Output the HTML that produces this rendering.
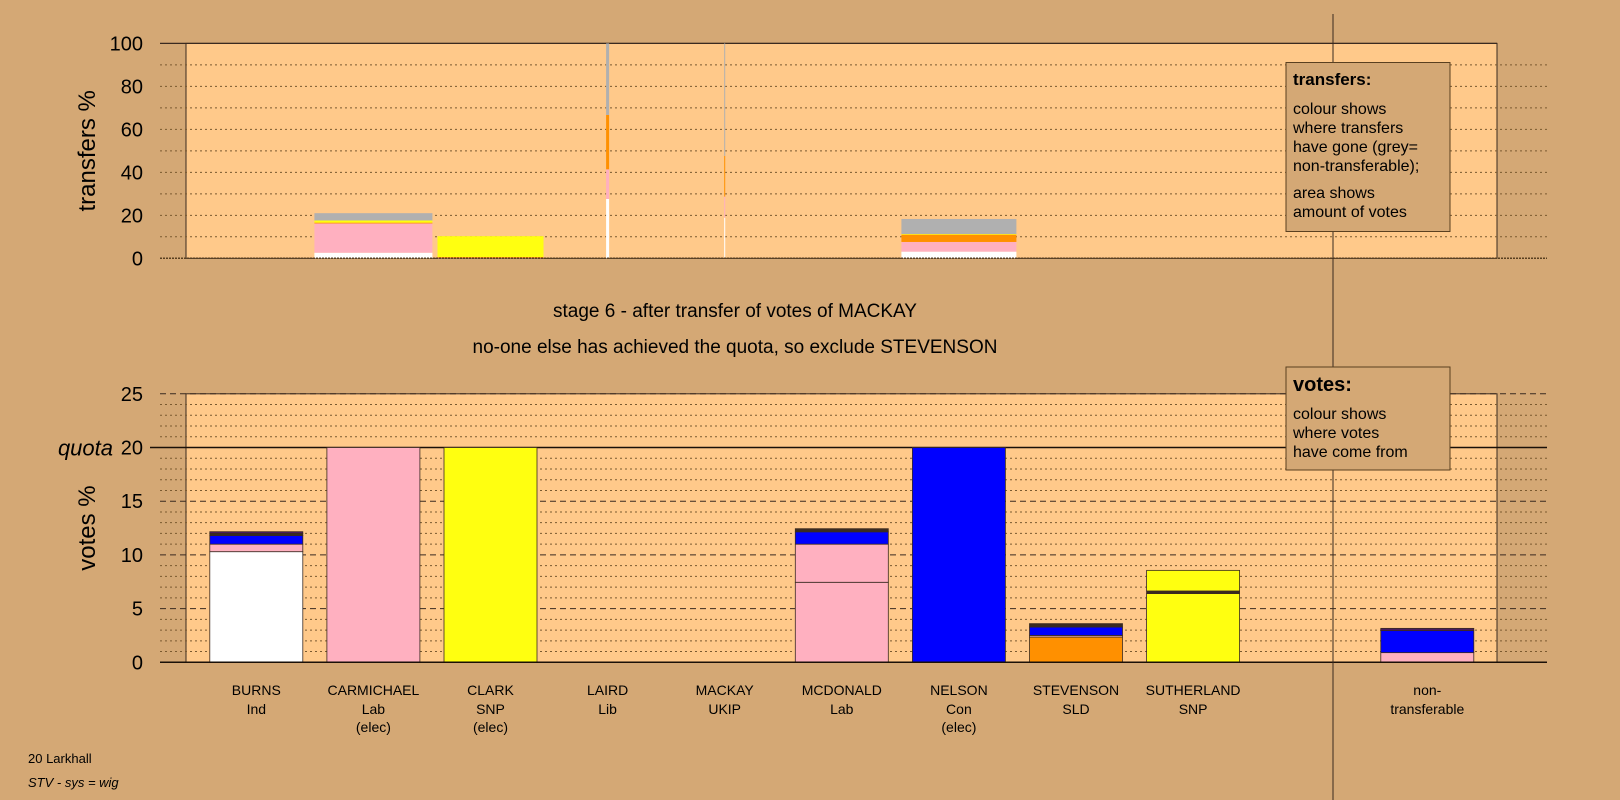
<!DOCTYPE html>
<html><head><meta charset="utf-8">
<style>
html,body{margin:0;padding:0;background:#d4a875;}
svg{display:block;font-family:"Liberation Sans",Arial,sans-serif;}
</style></head>
<body>
<svg id="chart" width="1620" height="800" viewBox="0 0 1620 800" xmlns="http://www.w3.org/2000/svg">
<rect x="0" y="0" width="1620" height="800" fill="#d4a875"/>
<g id="topg"></g>
<g id="botg"></g>
<g id="ovg"></g>
</svg>
<script>
// ---- data ----
var candidates = ["BURNS","CARMICHAEL","CLARK","LAIRD","MACKAY","MCDONALD","NELSON","STEVENSON","SUTHERLAND","gap","nontransferable"];
var labelLine1 = ["BURNS","CARMICHAEL","CLARK","LAIRD","MACKAY","MCDONALD","NELSON","STEVENSON","SUTHERLAND","","non-"];
var labelLine2 = ["Ind","Lab","SNP","Lib","UKIP","Lab","Con","SLD","SNP","","transferable"];
var labelLine3 = ["","(elec)","(elec)","","","","(elec)","","","",""];
var colours = {white:"#ffffff",pink:"#ffb0c0",yellow:"#ffff10",blue:"#0000ff",orange:"#ff9000",grey:"#b0b0b0",purple:"#4a1a60",dark:"#3a2a20"};
var transferIdx = [1,2,3,4,6];
var transferWidth = [118,106,3,1,115];
var transferColours = [
 ["white","pink","orange","yellow","grey"],
 ["pink","orange","yellow"],
 ["white","pink","orange","grey"],
 ["white","pink","orange","grey"],
 ["white","pink","orange","yellow","grey"]];
var transferTops = [
 [2.6,16.2,16.6,17.6,21.0],
 [0.3,0.6,10.3],
 [27.6,41.4,66.7,100],
 [18.9,28.7,47.6,100],
 [3.1,7.6,11.0,11.3,18.3]];
var voteColours = [
 ["white","pink","blue","dark","purple"],
 ["pink"],["yellow"],[],[],
 ["pink","pink","blue","dark"],
 ["blue"],
 ["orange","pink","blue","dark"],
 ["yellow","dark","yellow"],
 [],
 ["pink","blue","purple"]];
var voteTops = [
 [10.3,11.0,11.8,12.0,12.16],
 [20],[20],[],[],
 [7.45,11.0,12.15,12.44],
 [20],
 [2.35,2.5,3.28,3.6],
 [6.4,6.64,8.56],
 [],
 [0.9,2.95,3.16]];
var topTicks = [0,20,40,60,80,100];
var botTicks = [0,5,10,15,20,25];
var quota = 20;

(function(){
var NS="http://www.w3.org/2000/svg";
var plotL=186, plotR=1497, lineL=160, lineR=1547;
var x0=256.3, step=117.1, barW=93;
function xc(i){return x0+i*step;}
var tTop=43.4, tBot=258.3;
function ty(v){return tBot-(tBot-tTop)*v/100;}
var bBot=662.3, bPer=10.74;
function by(v){return bBot-bPer*v;}
function mk(parent,tag,attrs,name){var e=document.createElementNS(NS,tag);for(var k in attrs)e.setAttribute(k,attrs[k]);
 
 
 parent.appendChild(e);return e;}
function txt(parent,x,y,s,size,anchor,name,extra){var a={x:x,y:y,'font-size':size,'text-anchor':anchor,fill:'#000'};if(extra){for(var k in extra)a[k]=extra[k];}var t=mk(parent,'text',a,name);t.textContent=s;return t;}

var topG=document.getElementById('topg'), botG=document.getElementById('botg'), ovG=document.getElementById('ovg');
var i,j,g,cx,w,prev,t;
mk(topG,'rect',{x:plotL,y:tTop,width:plotR-plotL,height:tBot-tTop,fill:'#ffc98a',stroke:'#3a2a20','stroke-width':1},'transfers-plot-area');
for(g=10;g<100;g+=10){mk(topG,'line',{x1:lineL,x2:lineR,y1:ty(g),y2:ty(g),stroke:'#7a5a30','stroke-width':1,'stroke-dasharray':'2,3'},'transfers-gridline');}
mk(topG,'line',{x1:lineL,x2:plotR,y1:tTop,y2:tTop,stroke:'#3a2a20','stroke-width':1.2},'transfers-top-line');
for(i=0;i<transferIdx.length;i++){
  cx=xc(transferIdx[i]); w=transferWidth[i]; prev=0;
  for(j=0;j<transferTops[i].length;j++){
    t=transferTops[i][j];
    mk(topG,'rect',{x:cx-w/2,y:ty(t),width:w,height:ty(prev)-ty(t),fill:colours[transferColours[i][j]]},'transfer-segment-'+candidates[transferIdx[i]].toLowerCase());
    prev=t;
  }
}
mk(topG,'line',{x1:lineL,x2:lineR,y1:tBot,y2:tBot,stroke:'#5a4020','stroke-width':1.5,'stroke-dasharray':'2,1'},'transfers-x-axis');
topTicks.forEach(function(v){txt(topG,143,ty(v)+7,String(v),20,'end','transfers-y-tick');});
txt(topG,95,ty(50),'transfers %',24,'middle','transfers-y-axis-title',{transform:'rotate(-90 95 '+ty(50)+')'});

mk(botG,'rect',{x:plotL,y:by(25),width:plotR-plotL,height:by(0)-by(25),fill:'#ffc98a',stroke:'#3a2a20','stroke-width':1},'votes-plot-area');
for(g=1;g<=25;g++){
  if(g%5===0){
    if(g===quota) mk(botG,'line',{x1:lineL-10,x2:lineR,y1:by(g),y2:by(g),stroke:'#1a1008','stroke-width':1.5},'quota-line');
    else mk(botG,'line',{x1:lineL,x2:lineR,y1:by(g),y2:by(g),stroke:'#3a2a20','stroke-width':1,'stroke-dasharray':'6,4'},'votes-major-gridline');
  } else mk(botG,'line',{x1:lineL,x2:lineR,y1:by(g),y2:by(g),stroke:'#7a5a30','stroke-width':1,'stroke-dasharray':'2,3'},'votes-minor-gridline');
}
for(i=0;i<voteTops.length;i++){
  cx=xc(i); prev=0;
  for(j=0;j<voteTops[i].length;j++){
    t=voteTops[i][j];
    mk(botG,'rect',{x:cx-barW/2,y:by(t),width:barW,height:by(prev)-by(t),fill:colours[voteColours[i][j]],stroke:'#3a2a20','stroke-width':0.8},'vote-segment-'+candidates[i].toLowerCase());
    prev=t;
  }
}
mk(botG,'line',{x1:lineL,x2:lineR,y1:bBot,y2:bBot,stroke:'#1a1008','stroke-width':1.5},'votes-x-axis');
botTicks.forEach(function(v){txt(botG,143,by(v)+7,String(v),20,'end','votes-y-tick');});
txt(botG,113,by(quota)+8,'quota',22,'end','quota-label',{'font-style':'italic'});
txt(botG,95,by(12.5),'votes %',24,'middle','votes-y-axis-title',{transform:'rotate(-90 95 '+by(12.5)+')'});
for(i=0;i<labelLine1.length;i++){
  if(labelLine1[i]) txt(botG,xc(i),695,labelLine1[i],14,'middle','candidate-name');
  if(labelLine2[i]) txt(botG,xc(i),714,labelLine2[i],14,'middle','candidate-party');
  if(labelLine3[i]) txt(botG,xc(i),732,labelLine3[i],14,'middle','candidate-status');
}

mk(ovG,'line',{x1:1333,x2:1333,y1:14,y2:800,stroke:'#3a2a20','stroke-width':1},'nontransferable-separator');
txt(ovG,735,317,'stage 6 - after transfer of votes of MACKAY',19,'middle','stage-title');
txt(ovG,735,353,'no-one else has achieved the quota, so exclude STEVENSON',19,'middle','stage-subtitle');
mk(ovG,'rect',{x:1286,y:62.5,width:164,height:169,fill:'#d4a875',stroke:'#5a4020','stroke-width':1},'transfers-legend-box');
txt(ovG,1293,85,'transfers:',17,'start','transfers-legend-title',{'font-weight':'bold'});
['colour shows','where transfers','have gone (grey=','non-transferable);'].forEach(function(s,k){txt(ovG,1293,114+k*19,s,16,'start','transfers-legend-text');});
['area shows','amount of votes'].forEach(function(s,k){txt(ovG,1293,198+k*19,s,16,'start','transfers-legend-text');});
mk(ovG,'rect',{x:1286,y:367,width:164,height:103,fill:'#d4a875',stroke:'#5a4020','stroke-width':1},'votes-legend-box');
txt(ovG,1293,391,'votes:',20,'start','votes-legend-title',{'font-weight':'bold'});
['colour shows','where votes','have come from'].forEach(function(s,k){txt(ovG,1293,419+k*19,s,16,'start','votes-legend-text');});
txt(ovG,28,763,'20 Larkhall',13,'start','ward-name');
txt(ovG,28,787,'STV - sys = wig',13,'start','system-label',{'font-style':'italic'});
})();
</script>
</body></html>
